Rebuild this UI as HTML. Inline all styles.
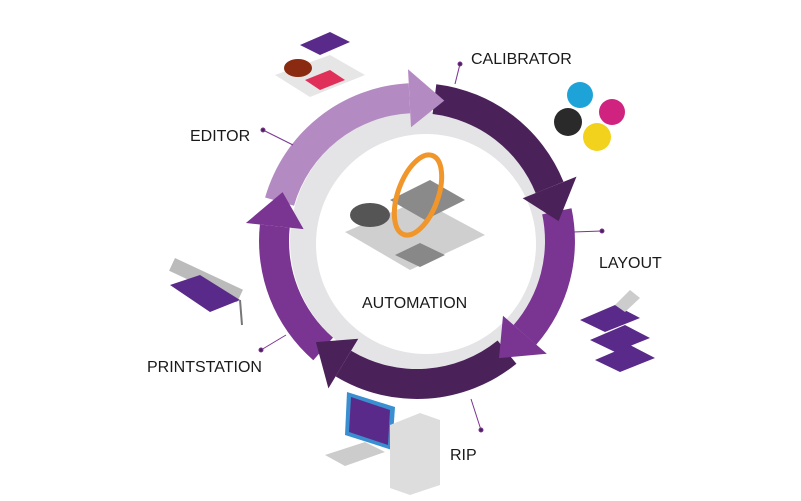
<!DOCTYPE html>
<html><head><meta charset="utf-8"><style>
html,body{margin:0;padding:0;background:#fff;}
svg{display:block}
text{font-family:"Liberation Sans",sans-serif;font-size:16px;fill:#1a1a1a;}
</style></head><body>
<svg width="801" height="501" viewBox="0 0 801 501" xmlns="http://www.w3.org/2000/svg">
<circle cx="420" cy="241" r="130" fill="#e4e4e6"/>
<circle cx="426" cy="244" r="110" fill="#fff"/>
<g>
<path fill="#b48ac2" d="M265.1,197.5 A158,158 0 0 1 408.7,83.2 L410.3,113.2 A128,128 0 0 0 294.0,205.7 Z"/>
<path fill="#4b2159" d="M436.3,84.2 A158,158 0 0 1 563.5,181.8 L535.7,193.1 A128,128 0 0 0 432.6,114.0 Z"/>
<path fill="#7a3492" d="M571.5,208.2 A158,158 0 0 1 536.2,344.7 L513.6,325.0 A128,128 0 0 0 542.2,214.4 Z"/>
<path fill="#4b2159" d="M516.4,363.8 A158,158 0 0 1 335.6,376.4 L351.1,350.7 A128,128 0 0 0 497.6,340.5 Z"/>
<path fill="#7a3492" d="M313.3,360.2 A158,158 0 0 1 259.9,224.5 L289.7,227.6 A128,128 0 0 0 333.0,337.6 Z"/>
<polygon fill="#b48ac2" points="408.0,69.2 444.3,100.6 411.0,127.2"/>
<polygon fill="#4b2159" points="576.5,176.6 558.6,221.1 522.7,198.3"/>
<polygon fill="#7a3492" points="546.8,353.8 499.0,358.1 503.0,315.8"/>
<polygon fill="#4b2159" points="328.4,388.4 315.9,342.1 358.3,338.7"/>
<polygon fill="#7a3492" points="245.9,223.0 282.6,192.1 303.6,229.1"/>
</g>
<g stroke="#7a3492" stroke-width="1" fill="#4b2159">
<line x1="460" y1="64" x2="455" y2="84"/><circle cx="460" cy="64" r="2"/>
<line x1="263" y1="130" x2="293" y2="145"/><circle cx="263" cy="130" r="2"/>
<line x1="602" y1="231" x2="573" y2="232"/><circle cx="602" cy="231" r="2"/>
<line x1="261" y1="350" x2="286" y2="335"/><circle cx="261" cy="350" r="2"/>
<line x1="481" y1="430" x2="471" y2="399"/><circle cx="481" cy="430" r="2"/>
</g>
<text x="471" y="64">CALIBRATOR</text>
<text x="190" y="141">EDITOR</text>
<text x="599" y="268">LAYOUT</text>
<text x="362" y="308">AUTOMATION</text>
<text x="147" y="372">PRINTSTATION</text>
<text x="450" y="460">RIP</text>
<circle cx="580" cy="95" r="13" fill="#1ea3d8"/>
<circle cx="612" cy="112" r="13" fill="#d0237f"/>
<circle cx="568" cy="122" r="14" fill="#2a2a2a"/>
<circle cx="597" cy="137" r="14" fill="#f2d21c"/>
<polygon points="275,75 330,55 365,75 310,97" fill="#e6e6e6"/>
<polygon points="300,45 330,32 350,42 320,55" fill="#5a2a8a"/>
<ellipse cx="298" cy="68" rx="14" ry="9" fill="#8a2a10"/>
<polygon points="305,80 330,70 345,80 320,90" fill="#e0305a"/>
<polygon points="345,232 420,200 485,235 410,270" fill="#cfcfcf"/>
<polygon points="390,200 430,180 465,200 425,220" fill="#8a8a8a"/>
<ellipse cx="370" cy="215" rx="20" ry="12" fill="#555"/>
<polygon points="395,255 420,243 445,255 420,267" fill="#888"/>
<ellipse cx="418" cy="195" rx="20" ry="42" fill="none" stroke="#f0962a" stroke-width="5" transform="rotate(20 418 195)"/>
<rect x="175" y="258" width="75" height="14" fill="#bbb" transform="rotate(25 175 258)"/>
<polygon points="170,285 200,275 240,300 210,312" fill="#5a2a8a"/>
<line x1="240" y1="300" x2="242" y2="325" stroke="#777" stroke-width="2"/>
<polygon points="580,320 615,305 640,318 605,332" fill="#5a2a8a"/>
<polygon points="590,340 625,325 650,338 615,352" fill="#5a2a8a"/>
<polygon points="595,360 630,345 655,358 620,372" fill="#5a2a8a"/>
<polygon points="615,305 630,290 640,298 625,312" fill="#ccc"/>
<polygon points="347,392 395,407 392,450 345,435" fill="#3a8fd0"/>
<polygon points="351,397 390,410 388,445 349,432" fill="#5a2a8a"/>
<polygon points="390,425 420,413 440,420 440,485 410,495 390,488" fill="#ddd"/>
<polygon points="325,455 365,442 385,452 345,466" fill="#ccc"/>
</svg>
</body></html>
